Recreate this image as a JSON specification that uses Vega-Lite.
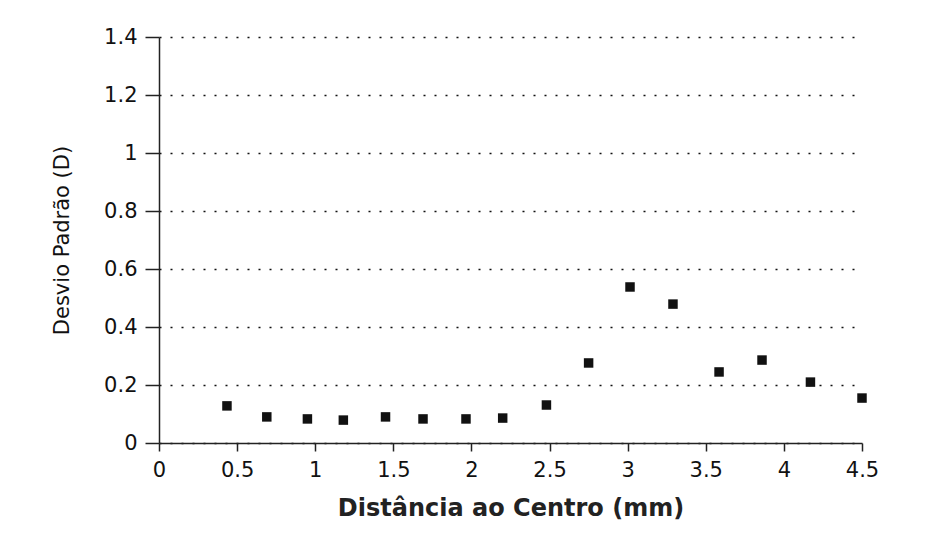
{
  "$schema": "https://vega.github.io/schema/vega-lite/v6.json",
  "width": 703,
  "height": 406,
  "autosize": {"type": "none"},
  "padding": {"left": 159, "top": 37, "right": 65, "bottom": 91},
  "background": "white",
  "config": {
    "view": {"stroke": null},
    "font": "DejaVu Sans"
  },
  "data": {
    "values": [
      {"distancia": 0.435, "desvio": 0.128},
      {"distancia": 0.69, "desvio": 0.09},
      {"distancia": 0.95, "desvio": 0.083},
      {"distancia": 1.18, "desvio": 0.079},
      {"distancia": 1.45, "desvio": 0.09},
      {"distancia": 1.69, "desvio": 0.083},
      {"distancia": 1.965, "desvio": 0.083},
      {"distancia": 2.2, "desvio": 0.086},
      {"distancia": 2.48, "desvio": 0.131},
      {"distancia": 2.75, "desvio": 0.276},
      {"distancia": 3.015, "desvio": 0.538},
      {"distancia": 3.29, "desvio": 0.479},
      {"distancia": 3.585, "desvio": 0.245},
      {"distancia": 3.86, "desvio": 0.286},
      {"distancia": 4.17, "desvio": 0.21},
      {"distancia": 4.5, "desvio": 0.155}
    ]
  },
  "mark": {"type": "point", "shape": "square", "filled": true, "color": "#111111", "size": 90, "opacity": 1},
  "encoding": {
    "x": {
      "field": "distancia",
      "type": "quantitative",
      "scale": {"domain": [0, 4.5], "nice": false, "zero": false},
      "axis": {
        "title": "Distância ao Centro (mm)",
        "values": [0, 0.5, 1, 1.5, 2, 2.5, 3, 3.5, 4, 4.5],
        "format": "~g",
        "grid": false,
        "domainColor": "#222222",
        "domainWidth": 1.5,
        "tickColor": "#222222",
        "tickWidth": 1.5,
        "tickSize": 8,
        "labelFont": "DejaVu Sans",
        "labelFontSize": 21,
        "labelColor": "#111111",
        "labelPadding": 8,
        "labelFlush": false,
        "titleFont": "DejaVu Sans",
        "titleFontSize": 24,
        "titleFontWeight": "bold",
        "titleColor": "#222222",
        "titlePadding": 16
      }
    },
    "y": {
      "field": "desvio",
      "type": "quantitative",
      "scale": {"domain": [0, 1.4], "nice": false},
      "axis": {
        "title": "Desvio Padrão (D)",
        "values": [0, 0.2, 0.4, 0.6, 0.8, 1, 1.2, 1.4],
        "format": "~g",
        "grid": true,
        "gridColor": "#111111",
        "gridDash": [2, 9],
        "gridWidth": 1.5,
        "domainColor": "#222222",
        "domainWidth": 1.5,
        "tickColor": "#222222",
        "tickWidth": 1.5,
        "tickSize": 14,
        "labelFont": "DejaVu Sans",
        "labelFontSize": 21,
        "labelColor": "#111111",
        "labelPadding": 8,
        "labelFlush": false,
        "titleFont": "DejaVu Sans",
        "titleFontSize": 21,
        "titleFontWeight": "normal",
        "titleColor": "#111111",
        "titlePadding": 31
      }
    }
  }
}
